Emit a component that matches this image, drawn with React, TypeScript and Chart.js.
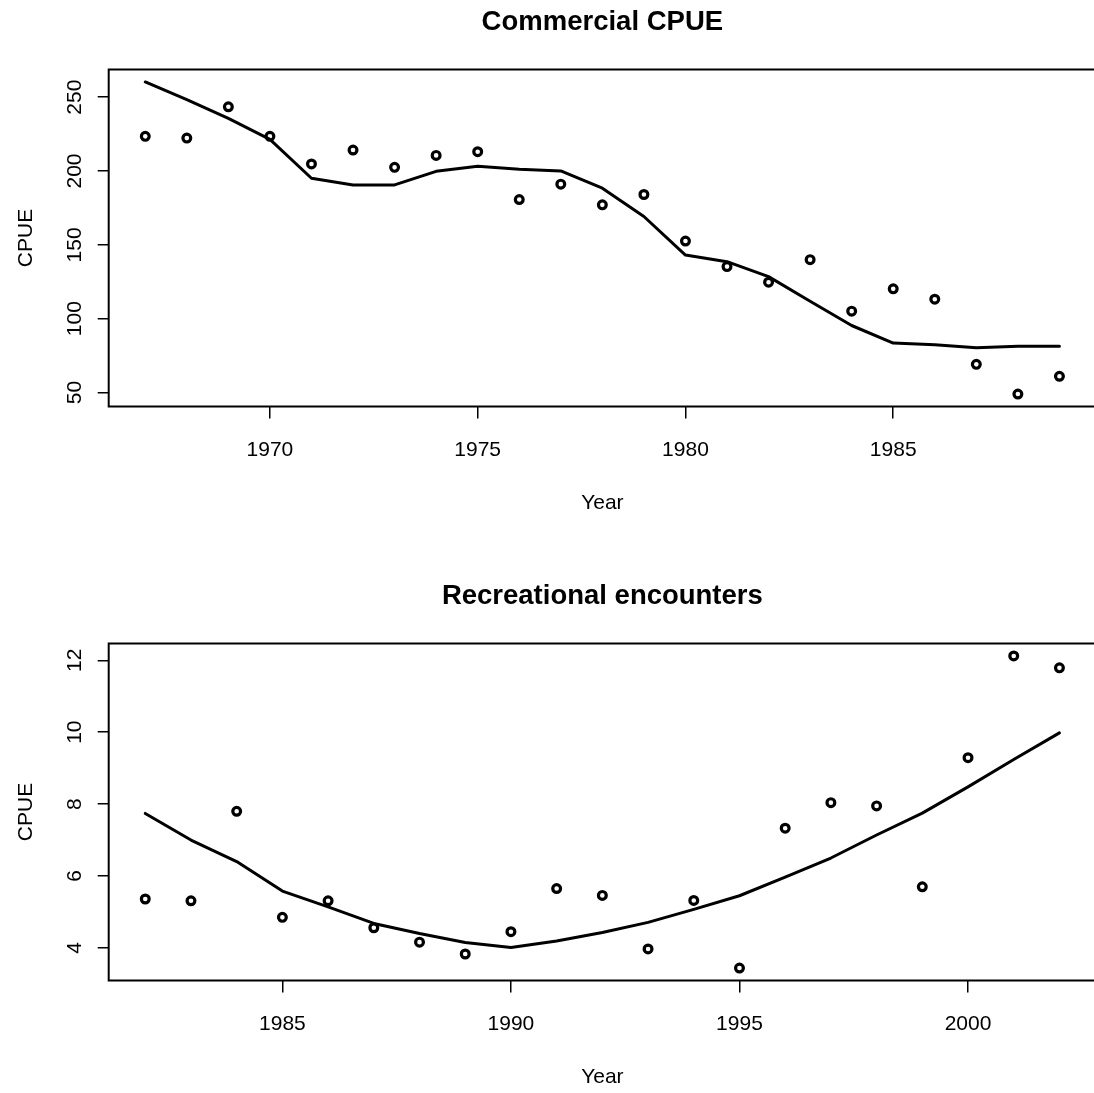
import React, { useEffect, useRef } from "react";
import { Chart, registerables } from "chart.js";

Chart.register(...registerables);

// ---------- Data ----------
const commercialYears = [
  1967, 1968, 1969, 1970, 1971, 1972, 1973, 1974, 1975, 1976, 1977, 1978,
  1979, 1980, 1981, 1982, 1983, 1984, 1985, 1986, 1987, 1988, 1989,
];
const commercialObserved = [
  223.5, 222.3, 243.5, 223.5, 204.8, 214.2, 202.5, 210.6, 213.1, 180.7, 191.1,
  177.1, 184.1, 152.6, 135.3, 124.7, 140.0, 105.1, 120.2, 113.2, 69.1, 49.0,
  61.0,
];
const commercialFitted = [
  260.3, 248.4, 235.6, 221.4, 195.1, 190.6, 190.6, 199.8, 203.2, 201.2, 200.1,
  188.4, 169.2, 143.1, 138.6, 128.5, 111.8, 95.4, 83.5, 82.4, 80.4, 81.3, 81.3,
];
const commercialXTicks = [1970, 1975, 1980, 1985];
const commercialYTicks = [50, 100, 150, 200, 250];

const recreationalYears = [
  1982, 1983, 1984, 1985, 1986, 1987, 1988, 1989, 1990, 1991, 1992, 1993,
  1994, 1995, 1996, 1997, 1998, 1999, 2000, 2001, 2002,
];
const recreationalObserved = [
  5.36, 5.31, 7.8, 4.85, 5.31, 4.56, 4.16, 3.83, 4.45, 5.65, 5.46, 3.97, 5.32,
  3.44, 7.33, 8.04, 7.95, 5.7, 9.29, 12.12, 11.79,
];
const recreationalFitted = [
  7.74, 7.0, 6.4, 5.58, 5.14, 4.68, 4.4, 4.15, 4.01, 4.19, 4.43, 4.71, 5.07,
  5.45, 5.97, 6.5, 7.14, 7.75, 8.48, 9.24, 9.98,
];
const recreationalXTicks = [1985, 1990, 1995, 2000];
const recreationalYTicks = [4, 6, 8, 10, 12];

const titles = ["Commercial CPUE", "Recreational encounters"];
const xAxisTitle = "Year";
const yAxisTitle = "CPUE";

// ---------- Helpers ----------
const FONT = "'Liberation Sans', Arial, Helvetica, sans-serif";

// R-style 4% axis extension
function rRange(values: number[]): [number, number] {
  const lo = Math.min(...values);
  const hi = Math.max(...values);
  const d = (hi - lo) * 0.04;
  return [lo - d, hi + d];
}

const boxPlugin = {
  id: "rbox",
  beforeDatasetsDraw(chart: any) {
    const { ctx, chartArea } = chart;
    ctx.save();
    ctx.strokeStyle = "#000";
    ctx.lineWidth = 2;
    ctx.strokeRect(
      chartArea.left,
      chartArea.top,
      chartArea.right - chartArea.left,
      chartArea.bottom - chartArea.top
    );
    ctx.restore();
  },
};

interface PanelSpec {
  title: string;
  years: number[];
  observed: number[];
  fitted: number[];
  xTicks: number[];
  yTicks: number[];
  yTickPadding: number;
}

function makeChart(canvas: HTMLCanvasElement, spec: PanelSpec) {
  const [xmin, xmax] = rRange(spec.years);
  const [ymin, ymax] = rRange([...spec.observed, ...spec.fitted]);
  const tickFont = { family: FONT, size: 21 };

  return new Chart(canvas, {
    type: "scatter",
    data: {
      datasets: [
        {
          type: "line",
          data: spec.years.map((x, i) => ({ x, y: spec.fitted[i] })),
          borderColor: "#000",
          borderWidth: 3,
          pointRadius: 0,
          fill: false,
          tension: 0,
          borderJoinStyle: "round",
          borderCapStyle: "round",
        } as any,
        {
          type: "scatter",
          data: spec.years.map((x, i) => ({ x, y: spec.observed[i] })),
          pointStyle: "circle",
          pointRadius: 3.9,
          borderWidth: 3.2,
          borderColor: "#000",
          backgroundColor: "rgba(0,0,0,0)",
          showLine: false,
        } as any,
      ],
    },
    options: {
      animation: false,
      responsive: false,
      maintainAspectRatio: false,
      devicePixelRatio: 1,
      layout: {
        autoPadding: false,
        padding: { left: 8.7, right: 4, top: 0, bottom: 0 },
      },
      plugins: {
        legend: { display: false },
        tooltip: { enabled: false },
        title: {
          display: true,
          text: spec.title,
          color: "#000",
          font: { family: FONT, size: 27.5, weight: "bold" },
          padding: { top: 5.5, bottom: 31 },
          fullSize: false,
        },
      },
      scales: {
        x: {
          type: "linear",
          position: "bottom",
          min: xmin,
          max: xmax,
          afterBuildTicks: (s: any) => {
            s.ticks = spec.xTicks.map((v) => ({ value: v }));
          },
          afterFit: (s: any) => {
            s.height = 113.5;
          },
          ticks: {
            callback: (v: any) => String(v),
            font: tickFont,
            color: "#000",
            padding: 19.5,
            maxRotation: 0,
            minRotation: 0,
            autoSkip: false,
          },
          grid: {
            display: true,
            drawOnChartArea: false,
            drawTicks: true,
            tickLength: 12,
            color: "#000",
            lineWidth: 1.5,
          },
          border: { display: false },
          title: {
            display: true,
            text: xAxisTitle,
            color: "#000",
            font: tickFont,
            padding: { top: 0, bottom: 4 },
          },
        },
        y: {
          type: "linear",
          position: "left",
          min: ymin,
          max: ymax,
          afterBuildTicks: (s: any) => {
            s.ticks = spec.yTicks.map((v) => ({ value: v }));
          },
          afterFit: (s: any) => {
            s.width = 100;
          },
          ticks: {
            callback: (v: any) => String(v),
            font: tickFont,
            color: "#000",
            padding: spec.yTickPadding,
            minRotation: 90,
            maxRotation: 90,
            crossAlign: "center",
            autoSkip: false,
          },
          grid: {
            display: true,
            drawOnChartArea: false,
            drawTicks: true,
            tickLength: 11,
            color: "#000",
            lineWidth: 1.5,
          },
          border: { display: false },
          title: {
            display: true,
            text: yAxisTitle,
            color: "#000",
            font: tickFont,
            padding: { top: 4.5, bottom: 0 },
          },
        },
      },
    } as any,
    plugins: [boxPlugin],
  });
}

export default function App() {
  const topRef = useRef<HTMLCanvasElement>(null);
  const botRef = useRef<HTMLCanvasElement>(null);

  useEffect(() => {
    const charts: Chart[] = [];
    if (topRef.current) {
      charts.push(
        makeChart(topRef.current, {
          title: titles[0],
          years: commercialYears,
          observed: commercialObserved,
          fitted: commercialFitted,
          xTicks: commercialXTicks,
          yTicks: commercialYTicks,
          yTickPadding: 5,
        })
      );
    }
    if (botRef.current) {
      charts.push(
        makeChart(botRef.current, {
          title: titles[1],
          years: recreationalYears,
          observed: recreationalObserved,
          fitted: recreationalFitted,
          xTicks: recreationalXTicks,
          yTicks: recreationalYTicks,
          yTickPadding: 10.5,
        })
      );
    }
    return () => charts.forEach((c) => c.destroy());
  }, []);

  return (
    <div
      style={{
        position: "absolute",
        left: 0,
        top: 0,
        width: 1094,
        height: 1093,
        overflow: "hidden",
        background: "#fff",
      }}
    >
      <canvas
        ref={topRef}
        width={1100}
        height={520}
        style={{ position: "absolute", left: 0, top: 0, width: 1100, height: 520 }}
      />
      <canvas
        ref={botRef}
        width={1100}
        height={520}
        style={{ position: "absolute", left: 0, top: 574, width: 1100, height: 520 }}
      />
    </div>
  );
}
